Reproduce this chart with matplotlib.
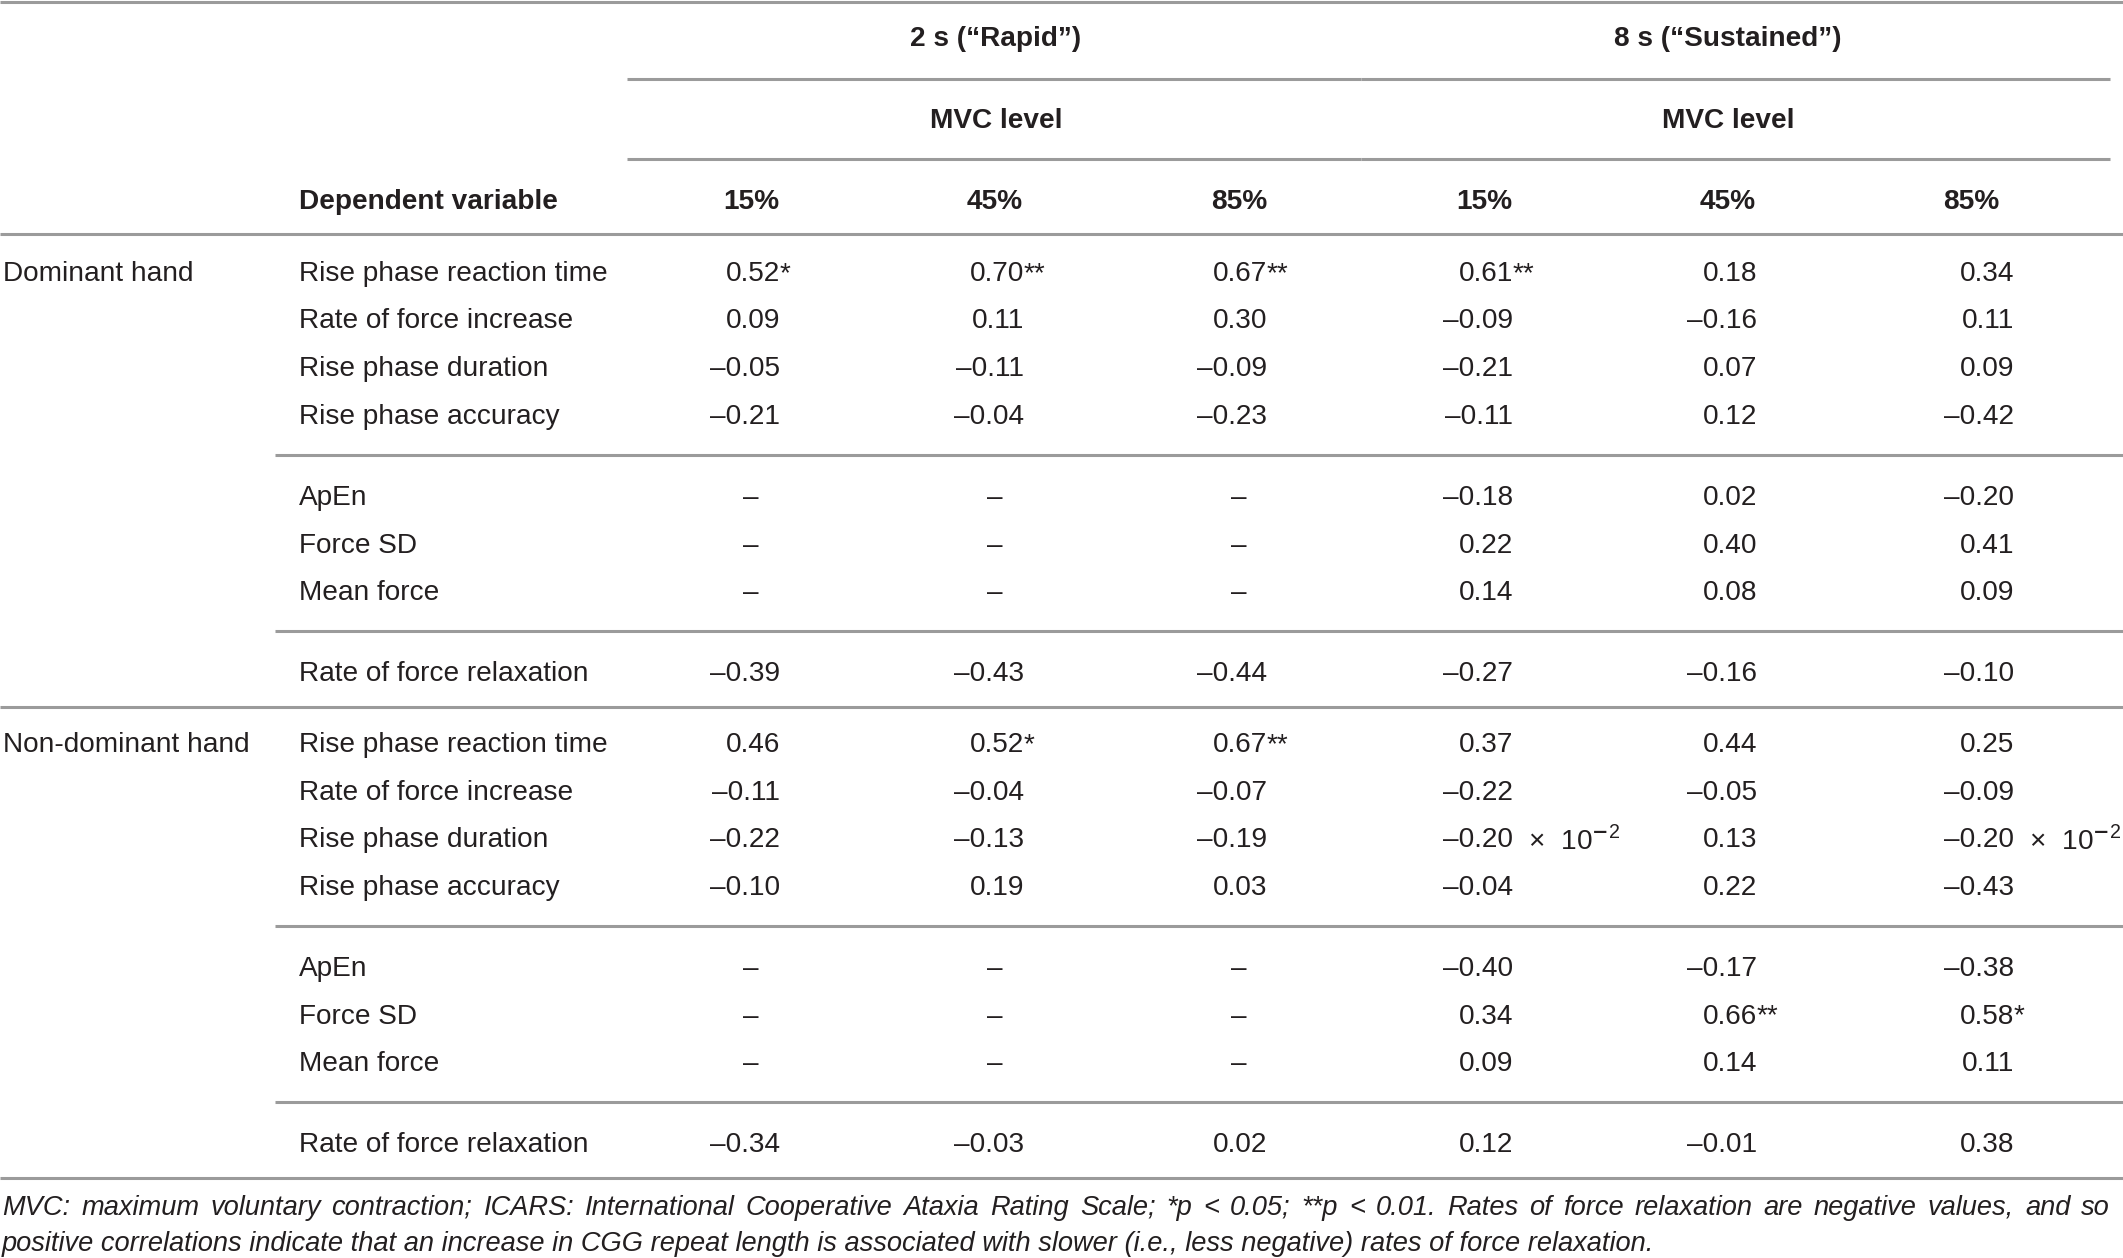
import re
import matplotlib
matplotlib.use("Agg")
import matplotlib.pyplot as plt

plt.rcParams['font.family'] = ['Liberation Sans', 'DejaVu Sans']
plt.rcParams['mathtext.fontset'] = 'custom'
plt.rcParams['mathtext.rm'] = 'Liberation Sans'

# table content
groups = ["2 s (\u201cRapid\u201d)", "8 s (\u201cSustained\u201d)"]
sub_header = "MVC level"
col_labels = ["15%", "45%", "85%", "15%", "45%", "85%"]
hands = ["Dominant hand", "Non-dominant hand"]
blocks = [["Rise phase reaction time", "Rate of force increase",
           "Rise phase duration", "Rise phase accuracy"],
          ["ApEn", "Force SD", "Mean force"],
          ["Rate of force relaxation"]]

dominant = [
    ["0.52*", "0.70**", "0.67**", "0.61**", "0.18", "0.34"],
    ["0.09", "0.11", "0.30", "\u20130.09", "\u20130.16", "0.11"],
    ["\u20130.05", "\u20130.11", "\u20130.09", "\u20130.21", "0.07", "0.09"],
    ["\u20130.21", "\u20130.04", "\u20130.23", "\u20130.11", "0.12", "\u20130.42"],
    ["\u2013", "\u2013", "\u2013", "\u20130.18", "0.02", "\u20130.20"],
    ["\u2013", "\u2013", "\u2013", "0.22", "0.40", "0.41"],
    ["\u2013", "\u2013", "\u2013", "0.14", "0.08", "0.09"],
    ["\u20130.39", "\u20130.43", "\u20130.44", "\u20130.27", "\u20130.16", "\u20130.10"],
]
non_dominant = [
    ["0.46", "0.52*", "0.67**", "0.37", "0.44", "0.25"],
    ["\u20130.11", "\u20130.04", "\u20130.07", "\u20130.22", "\u20130.05", "\u20130.09"],
    ["\u20130.22", "\u20130.13", "\u20130.19", "\u20130.20 x10-2", "0.13", "\u20130.20 x10-2"],
    ["\u20130.10", "0.19", "0.03", "\u20130.04", "0.22", "\u20130.43"],
    ["\u2013", "\u2013", "\u2013", "\u20130.40", "\u20130.17", "\u20130.38"],
    ["\u2013", "\u2013", "\u2013", "0.34", "0.66**", "0.58*"],
    ["\u2013", "\u2013", "\u2013", "0.09", "0.14", "0.11"],
    ["\u20130.34", "\u20130.03", "0.02", "0.12", "\u20130.01", "0.38"],
]
footnote = ["MVC: maximum voluntary contraction; ICARS: International Cooperative Ataxia Rating Scale; *p < 0.05; **p < 0.01. Rates of force relaxation are negative values, and so",
            "positive correlations indicate that an increase in CGG repeat length is associated with slower (i.e., less negative) rates of force relaxation."]

# layout (pixels)
W, H = 2123, 1258
col_center = [751, 995, 1239, 1484, 1728, 1971]
num_right = [780, 1024, 1267, 1513, 1757, 2014]
x_hand = 3
x_var = 299
x_sub = 275
fs = 20.2
fs_note = 19.6
dy = 3
txt = '#231f20'
rule = '#9b9b9b'

fig = plt.figure(figsize=(W / 100, H / 100), dpi=100)
ax = fig.add_axes([0, 0, 1, 1])
ax.set_xlim(0, W)
ax.set_ylim(H, 0)
ax.axis('off')

def hline(y, x0, x1, lw=2.2):
    ax.plot([x0, x1], [y, y], color=rule, lw=lw, solid_capstyle='butt')

def put(x, y, s, **kw):
    kw.setdefault('va', 'center')
    kw.setdefault('fontsize', fs)
    kw.setdefault('color', txt)
    return ax.text(x, y + dy, s, **kw)

# header
hline(2, 0, W)
put(996, 36, groups[0], ha='center', weight='bold')
put(1728, 36, groups[1], ha='center', weight='bold')
hline(78.5, 627, 1361)
hline(78.5, 1361, 2110)
put(996, 118, sub_header, ha='center', weight='bold')
put(1728, 118, sub_header, ha='center', weight='bold')
hline(158.5, 627, 1361)
hline(158.5, 1361, 2110)
put(x_var, 199, "Dependent variable", ha='left', weight='bold')
for c, lab in zip(col_center, col_labels):
    put(c, 199, lab, ha='center', weight='bold')
hline(234, 0, W)

def cell(x_c, x_r, y, s):
    if s == "\u2013":
        put(x_c, y, s, ha='center')
        return
    m = re.match(r"(\u2013?\d\.\d\d)(.*)", s)
    num, suf = m.group(1), m.group(2)
    put(x_r, y, num, ha='right')
    if suf.startswith(" x"):
        put(x_r, y, "  $\\times$  10$^{\\mathbf{-}" + suf[-1] + "}$", ha='left')
    elif suf:
        put(x_r, y, suf, ha='left')

row_step = 47.7
y = 234 + 36.8
for h, vals in zip(hands, [dominant, non_dominant]):
    put(x_hand, y, h, ha='left')
    k = 0
    for b, names in enumerate(blocks):
        for name in names:
            put(x_var, y, name, ha='left')
            for j in range(6):
                cell(col_center[j], num_right[j], y, vals[k][j])
            k += 1
            y += row_step
        y -= row_step
        if b < len(blocks) - 1:
            hline(y + 40.6, x_sub, W)
            y += 81
        else:
            hline(y + 35.4, 0, W)
            y += 70.6

# footnote: first line justified to full width
renderer = fig.canvas.get_renderer()
words = footnote[0].split(" ")
objs = [ax.text(0, 1205 + dy, w, ha='left', va='center', fontsize=fs_note,
                style='italic', color=txt) for w in words]
widths = [o.get_window_extent(renderer).width for o in objs]
gap = (2110 - 2 - sum(widths)) / (len(words) - 1)
xpos = 2
for o, wd in zip(objs, widths):
    o.set_x(xpos)
    xpos += wd + gap
put(2, 1241, footnote[1], ha='left', fontsize=fs_note, style='italic')

fig.savefig("out.png", dpi=100)
